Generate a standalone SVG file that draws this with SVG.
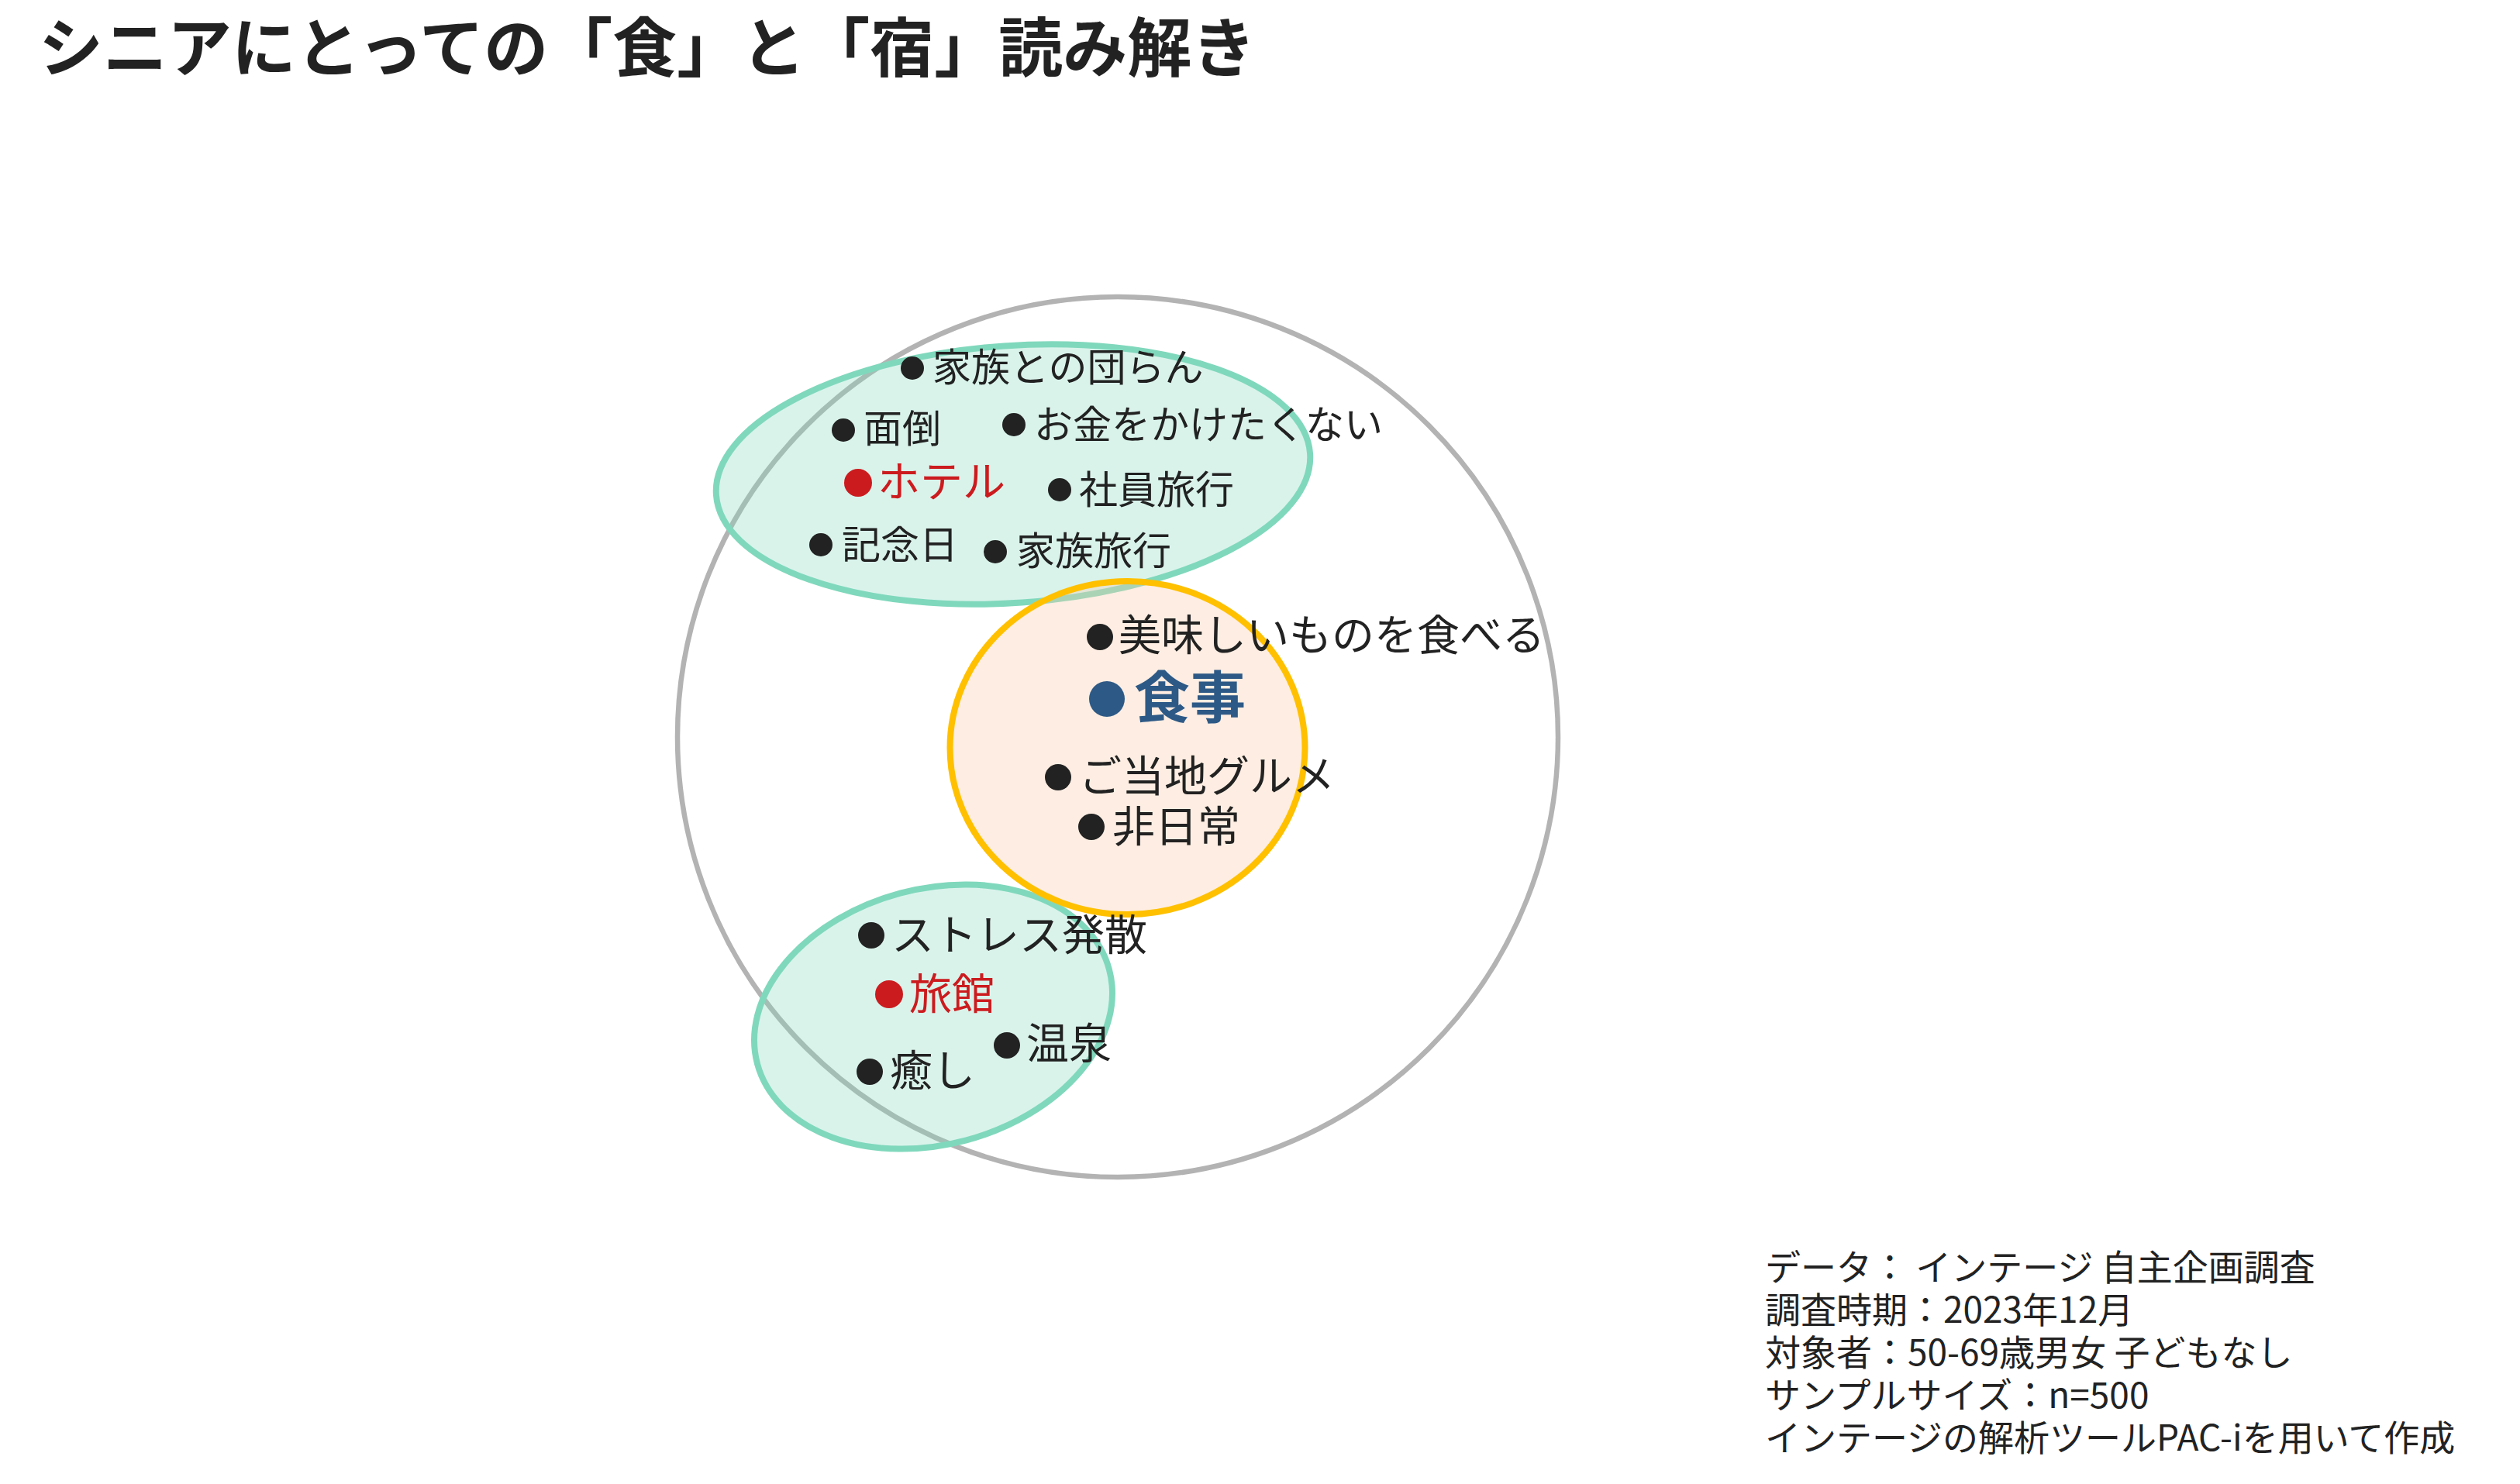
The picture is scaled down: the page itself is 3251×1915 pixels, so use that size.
<svg xmlns="http://www.w3.org/2000/svg" width="3251" height="1915" viewBox="0 0 3251 1915">
<style>
text{font-family:"Noto Sans CJK JP","Noto Sans",sans-serif;fill:#222222}
.title{font-size:83px;font-weight:700}
.s{font-size:50px}
.m{font-size:55px}
.red{fill:#cc1b1e}
.blue{fill:#2d5986;font-weight:700;font-size:72px}
.note{font-size:46px}
.dot{fill:#222222}
.rdot{fill:#cc1b1e}
.bdot{fill:#2d5986}
.grp{fill:#80d8bc;fill-opacity:0.3;stroke:#80d8bc;stroke-width:8}
</style>
<rect width="3251" height="1915" fill="#ffffff"/>
<text class="title" x="50" y="92">シニアにとっての「食」と「宿」読み解き</text>
<g id="areas">
<circle id="outer" cx="1442" cy="951" r="568" fill="none" stroke="#b3b3b3" stroke-width="6.5"/>
<ellipse id="hotel-group" class="grp" cx="1307" cy="612" rx="384" ry="166" transform="rotate(-4 1307 612)"/>
<ellipse id="ryokan-group" class="grp" cx="1204" cy="1312" rx="235" ry="165" transform="rotate(-15 1204 1312)"/>
<ellipse id="food-group" cx="1454.5" cy="965" rx="229" ry="215" fill="#f8cbad" fill-opacity="0.35" stroke="#ffc000" stroke-width="8"/>
</g>
<g id="connectors"></g>
<g id="n1"><circle class="dot" cx="1177" cy="475" r="15"/><text class="s" x="1203" y="492">家族との団らん</text></g>
<g id="n2"><circle class="dot" cx="1088" cy="555" r="15"/><text class="s" x="1114" y="571">面倒</text></g>
<g id="n3"><circle class="dot" cx="1308" cy="548" r="15"/><text class="s" x="1334" y="566">お金をかけたくない</text></g>
<g id="n4"><circle class="rdot" cx="1107" cy="623" r="18"/><text class="m red" x="1132" y="641">ホテル</text></g>
<g id="n5"><circle class="dot" cx="1367" cy="632" r="15"/><text class="s" x="1392" y="650">社員旅行</text></g>
<g id="n6"><circle class="dot" cx="1059" cy="703" r="15"/><text class="s" x="1086" y="721">記念日</text></g>
<g id="n7"><circle class="dot" cx="1284" cy="712" r="15"/><text class="s" x="1311" y="729">家族旅行</text></g>
<g id="n8"><circle class="dot" cx="1419" cy="822" r="17"/><text class="m" x="1443" y="839">美味しいものを食べる</text></g>
<g id="n9"><circle class="bdot" cx="1428" cy="902" r="23"/><text class="blue" x="1463" y="926">食事</text></g>
<g id="n10"><circle class="dot" cx="1365" cy="1003" r="17"/><text class="m" x="1392" y="1021">ご当地グルメ</text></g>
<g id="n11"><circle class="dot" cx="1408" cy="1067" r="17"/><text class="m" x="1435" y="1086">非日常</text></g>
<g id="n12"><circle class="dot" cx="1124" cy="1207" r="17"/><text class="m" x="1150" y="1226">ストレス発散</text></g>
<g id="n13"><circle class="rdot" cx="1147" cy="1283" r="18"/><text class="m red" x="1173" y="1302">旅館</text></g>
<g id="n14"><circle class="dot" cx="1299" cy="1349" r="17"/><text class="m" x="1324" y="1366">温泉</text></g>
<g id="n15"><circle class="dot" cx="1122" cy="1383" r="17"/><text class="m" x="1148" y="1401">癒し</text></g>
<g id="notes">
<text class="note" x="2277" y="1652">データ： インテージ 自主企画調査</text>
<text class="note" x="2277" y="1707">調査時期：2023年12月</text>
<text class="note" x="2277" y="1762">対象者：50-69歳男女 子どもなし</text>
<text class="note" x="2277" y="1817">サンプルサイズ：n=500</text>
<text class="note" x="2277" y="1872">インテージの解析ツールPAC-iを用いて作成</text>
</g>
</svg>
